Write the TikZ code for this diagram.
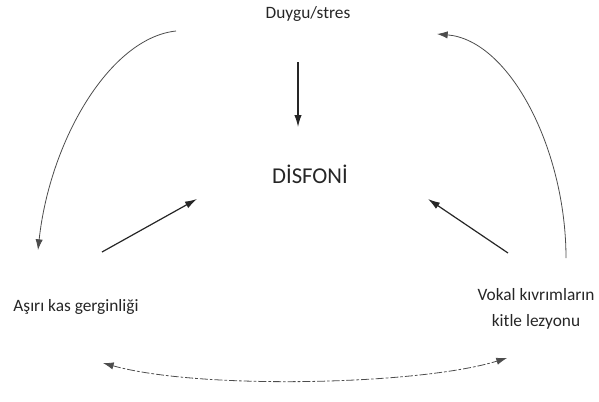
\documentclass[tikz,border=0pt]{standalone}
\usepackage{fontspec}
\setmainfont{Carlito}
\usetikzlibrary{arrows.meta}
\begin{document}
\begin{tikzpicture}[x=0.75pt,y=-0.75pt,
    label/.style={text=black!85,inner sep=0pt,font=\fontsize{13}{20}\selectfont},
    flow/.style={-{Latex[length=9pt,width=5.5pt]},line width=0.9pt,black!85},
    loop/.style={-{Latex[length=8pt,width=5.5pt]},line width=0.6pt,black!70}]
        \useasboundingbox (0,0) rectangle (599,401);

        \node[label,anchor=base] (stres) at (308,18) {Duygu/stres};
        \node[label,anchor=base,font=\fontsize{17}{20}\selectfont] (disfoni) at (310,183) {DİSFONİ};
        \node[label,anchor=base] (kas) at (76,311) {Aşırı kas gerginliği};
        \node[label,align=center] (vokal) at (536,309) {Vokal kıvrımların\\kitle lezyonu};

        \coordinate (stres-out) at (298,62);
        \coordinate (disfoni-top) at (298,127);
        \coordinate (kas-out) at (102,252);
        \coordinate (disfoni-left) at (197,199);
        \coordinate (vokal-out) at (508,253);
        \coordinate (disfoni-right) at (428,199);

        \coordinate (stres-left) at (176,31);
        \coordinate (kas-top) at (38,250);
        \coordinate (vokal-top) at (566,258);
        \coordinate (stres-right) at (437,34);
        \coordinate (kas-bottom) at (103,363);
        \coordinate (vokal-bottom) at (507,358);

        % straight arrows into the centre
        \draw[flow] (stres-out) -- (disfoni-top);
        \draw[flow] (kas-out) -- (disfoni-left);
        \draw[flow] (vokal-out) -- (disfoni-right);

        % outer loop
        \draw[loop] (stres-left) .. controls (110,38) and (50,140) .. (kas-top);
        \draw[loop] (vokal-top) .. controls (566,150) and (510,40) .. (stres-right);
        \draw[loop,{Latex[length=8pt,width=5.5pt]}-{Latex[length=8pt,width=5.5pt]},dash pattern=on 6pt off 1.5pt on 2pt off 1.5pt]
            (kas-bottom) .. controls (200,390) and (420,385) .. (vokal-bottom);
      \end{tikzpicture}
\end{document}
